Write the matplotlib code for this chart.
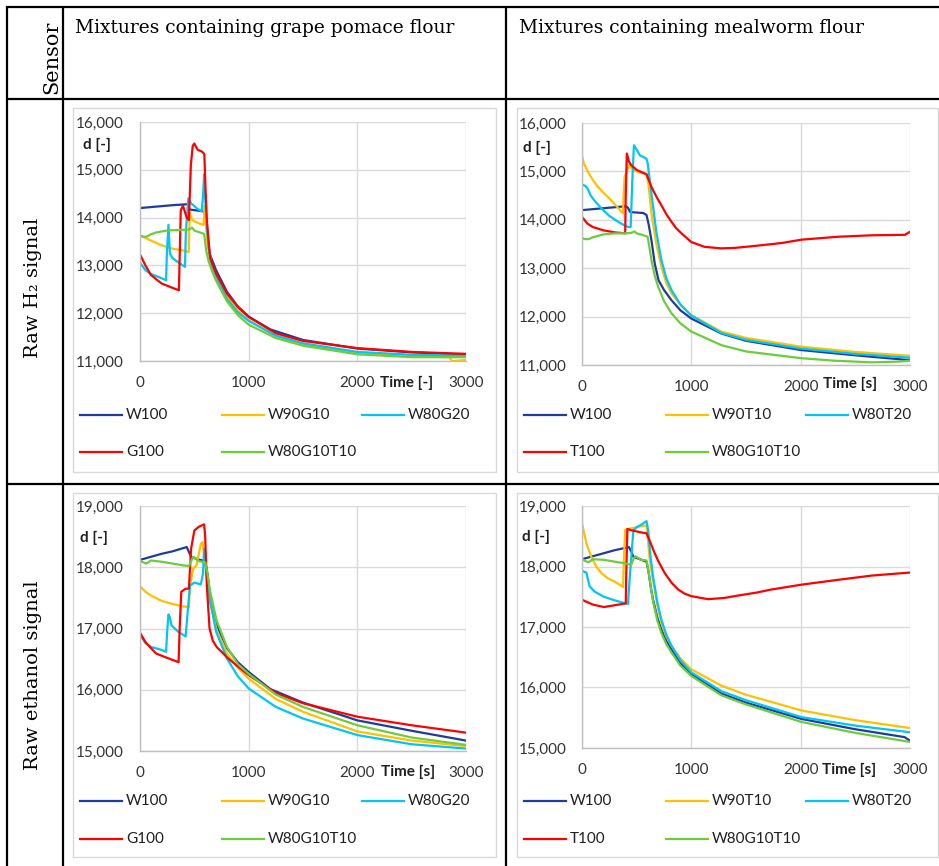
import matplotlib.pyplot as plt
from matplotlib.lines import Line2D
from matplotlib.patches import Rectangle
from matplotlib.ticker import FuncFormatter

plt.rcParams['font.family'] = ['Lato', 'DejaVu Sans']

# ---------------- data ----------------
# Raw H2 signal, grape pomace flour mixtures
h2g_w100_t = [0, 100, 200, 300, 440, 455, 520, 590, 610, 640, 700, 800, 900, 1000, 1200, 1500, 2000, 2500, 3000]
h2g_w100 = [14200, 14220, 14240, 14260, 14280, 14170, 14150, 14130, 13900, 13250, 12900, 12450, 12140, 11930, 11660, 11440, 11260, 11180, 11130]
h2g_w90g10_t = [0, 100, 200, 300, 400, 448, 458, 480, 540, 585, 595, 605, 625, 650, 700, 800, 900, 1000, 1250, 1500, 2000, 2500, 2850, 2870, 3000]
h2g_w90g10 = [13630, 13520, 13420, 13350, 13310, 13280, 14100, 13950, 13880, 13850, 14250, 13900, 13400, 13100, 12800, 12350, 12050, 11850, 11520, 11350, 11170, 11100, 11080, 11000, 11020]
h2g_w80g20_t = [0, 50, 100, 180, 240, 248, 262, 275, 300, 380, 414, 422, 445, 470, 520, 567, 580, 590, 605, 630, 660, 700, 800, 900, 1000, 1250, 1500, 2000, 2500, 3000]
h2g_w80g20 = [13060, 12900, 12820, 12750, 12690, 13300, 13850, 13250, 13150, 13020, 12970, 13700, 14400, 14300, 14200, 14130, 14450, 14900, 14200, 13400, 13000, 12750, 12300, 12020, 11840, 11530, 11370, 11190, 11130, 11110]
h2g_g100_t = [0, 50, 100, 200, 300, 358, 375, 395, 430, 450, 468, 485, 500, 530, 570, 592, 603, 615, 645, 700, 800, 900, 1000, 1250, 1500, 2000, 2500, 3000]
h2g_g100 = [13230, 13000, 12800, 12620, 12530, 12480, 14150, 14250, 14000, 13950, 15100, 15500, 15550, 15420, 15380, 15330, 14600, 13950, 13150, 12830, 12410, 12130, 11920, 11580, 11420, 11270, 11190, 11150]
h2g_mix_t = [0, 30, 60, 100, 150, 250, 350, 450, 480, 500, 550, 590, 610, 630, 660, 700, 800, 900, 1000, 1250, 1500, 2000, 2500, 3000]
h2g_mix = [13620, 13600, 13600, 13650, 13690, 13730, 13740, 13750, 13790, 13730, 13690, 13660, 13300, 13100, 12900, 12680, 12250, 11960, 11760, 11480, 11320, 11140, 11080, 11080]

# Raw H2 signal, mealworm flour mixtures
h2t_w100_t = [0, 100, 200, 300, 400, 420, 440, 500, 560, 590, 610, 635, 665, 700, 750, 818, 900, 1000, 1275, 1500, 2000, 2500, 3000]
h2t_w100 = [14200, 14220, 14240, 14260, 14280, 14250, 14160, 14150, 14140, 14100, 13900, 13580, 13100, 12750, 12550, 12340, 12130, 11960, 11650, 11500, 11310, 11200, 11100]
h2t_w90t10_t = [0, 20, 55, 100, 146, 200, 268, 320, 375, 380, 390, 430, 470, 520, 590, 610, 635, 680, 726, 770, 818, 900, 1000, 1275, 1500, 2000, 2500, 3000]
h2t_w90t10 = [15310, 15150, 14990, 14820, 14680, 14550, 14400, 14270, 14130, 14500, 14890, 15130, 15030, 14980, 14950, 14700, 14130, 13500, 13030, 12700, 12480, 12250, 12030, 11690, 11560, 11380, 11270, 11190]
h2t_w80t20_t = [0, 30, 50, 80, 120, 180, 250, 330, 400, 430, 445, 460, 475, 500, 530, 560, 590, 600, 635, 680, 726, 770, 818, 900, 1000, 1275, 1500, 2000, 2500, 3000]
h2t_w80t20 = [14730, 14700, 14650, 14500, 14380, 14230, 14080, 13960, 13870, 13850, 13850, 14800, 15540, 15450, 15330, 15300, 15260, 15180, 14540, 13750, 13170, 12800, 12550, 12250, 12020, 11660, 11520, 11340, 11230, 11150]
h2t_t100_t = [0, 50, 100, 200, 300, 395, 400, 410, 430, 450, 500, 550, 590, 635, 680, 726, 770, 818, 860, 910, 1000, 1123, 1275, 1400, 1580, 1825, 2008, 2343, 2650, 2954, 2990, 3000]
h2t_t100 = [14060, 13920, 13850, 13780, 13740, 13720, 14500, 15370, 15200, 15130, 15030, 14980, 14940, 14680, 14480, 14300, 14120, 13960, 13830, 13720, 13540, 13440, 13410, 13420, 13460, 13520, 13590, 13650, 13680, 13690, 13740, 13750]
h2t_mix_t = [0, 30, 60, 100, 200, 300, 400, 450, 480, 500, 550, 600, 615, 635, 665, 696, 750, 818, 900, 1000, 1275, 1500, 2008, 2300, 2650, 2900, 3000]
h2t_mix = [13620, 13600, 13600, 13640, 13700, 13720, 13720, 13730, 13760, 13720, 13690, 13650, 13450, 13170, 12850, 12620, 12320, 12070, 11860, 11690, 11410, 11280, 11140, 11090, 11055, 11070, 11090]

# Raw ethanol signal, grape pomace flour mixtures
etg_w100_t = [0, 100, 200, 300, 430, 450, 470, 530, 600, 620, 650, 700, 800, 900, 1000, 1200, 1500, 2000, 2500, 3000]
etg_w100 = [18120, 18170, 18220, 18260, 18330, 18250, 18170, 18130, 18100, 17900, 17450, 17080, 16680, 16450, 16290, 16010, 15790, 15500, 15330, 15170]
etg_w90g10_t = [0, 50, 100, 200, 300, 400, 450, 460, 490, 520, 560, 575, 590, 610, 644, 705, 800, 900, 1000, 1250, 1500, 2000, 2500, 3000]
etg_w90g10 = [17690, 17600, 17540, 17450, 17400, 17360, 17350, 17700, 17980, 18030, 18380, 18410, 18200, 17900, 17460, 16970, 16590, 16360, 16180, 15850, 15640, 15320, 15170, 15080]
etg_w80g20_t = [0, 50, 100, 200, 240, 250, 262, 275, 290, 350, 420, 440, 460, 500, 560, 580, 590, 600, 620, 644, 700, 800, 900, 1000, 1250, 1500, 2000, 2500, 3000]
etg_w80g20 = [16900, 16760, 16700, 16650, 16620, 16950, 17230, 17180, 17050, 16950, 16870, 17300, 17700, 17750, 17720, 17900, 18300, 18100, 17800, 17460, 16950, 16510, 16220, 16020, 15720, 15530, 15260, 15110, 15040]
etg_g100_t = [0, 50, 100, 150, 250, 355, 365, 380, 420, 450, 470, 500, 540, 590, 600, 615, 640, 670, 705, 750, 800, 900, 1000, 1258, 1500, 2000, 2500, 3000]
etg_g100 = [16930, 16780, 16680, 16590, 16520, 16450, 17000, 17600, 17650, 17650, 18300, 18600, 18660, 18700, 18500, 17700, 17000, 16800, 16700, 16620, 16530, 16380, 16240, 15940, 15780, 15560, 15420, 15300]
etg_mix_t = [0, 30, 60, 100, 200, 300, 400, 450, 470, 490, 540, 600, 620, 644, 705, 800, 900, 1000, 1250, 1500, 2000, 2500, 3000]
etg_mix = [18100, 18080, 18060, 18110, 18090, 18060, 18030, 18020, 18100, 18170, 18100, 18080, 17900, 17620, 17130, 16700, 16420, 16260, 15920, 15720, 15420, 15220, 15100]

# Raw ethanol signal, mealworm flour mixtures
ett_w100_t = [0, 100, 200, 300, 430, 450, 470, 530, 590, 610, 630, 650, 690, 726, 770, 818, 900, 1000, 1275, 1500, 2008, 2500, 2950, 3000]
ett_w100 = [18120, 18170, 18220, 18270, 18320, 18250, 18160, 18120, 18080, 17900, 17650, 17450, 17150, 16960, 16780, 16630, 16400, 16220, 15900, 15750, 15480, 15310, 15180, 15120]
ett_w90t10_t = [0, 20, 40, 85, 130, 177, 240, 300, 375, 385, 395, 450, 500, 590, 600, 620, 650, 690, 726, 770, 818, 900, 1000, 1275, 1500, 2008, 2500, 3000]
ett_w90t10 = [18710, 18550, 18380, 18160, 18000, 17890, 17800, 17750, 17660, 18200, 18610, 18630, 18650, 18680, 18500, 18100, 17780, 17350, 17070, 16850, 16690, 16480, 16300, 16030, 15880, 15620, 15460, 15330]
ett_w80t20_t = [0, 40, 55, 70, 120, 200, 300, 420, 440, 470, 500, 550, 590, 605, 625, 650, 690, 726, 770, 818, 900, 1000, 1275, 1500, 2008, 2500, 3000]
ett_w80t20 = [17930, 17900, 17780, 17670, 17580, 17500, 17440, 17380, 17900, 18600, 18650, 18700, 18750, 18600, 18200, 17830, 17400, 17120, 16880, 16690, 16450, 16250, 15940, 15790, 15510, 15370, 15260]
ett_t100_t = [0, 100, 200, 300, 400, 405, 415, 450, 500, 550, 590, 620, 665, 700, 757, 820, 879, 940, 1000, 1153, 1300, 1428, 1600, 1733, 2008, 2343, 2649, 3000]
ett_t100 = [17450, 17370, 17330, 17360, 17390, 17900, 18620, 18600, 18580, 18560, 18550, 18420, 18220, 18080, 17890, 17730, 17620, 17550, 17510, 17460, 17480, 17520, 17570, 17620, 17700, 17780, 17850, 17900]
ett_mix_t = [0, 30, 60, 100, 200, 300, 400, 450, 470, 490, 540, 590, 610, 630, 650, 690, 726, 770, 818, 900, 1000, 1275, 1500, 2008, 2500, 3000]
ett_mix = [18120, 18090, 18070, 18120, 18110, 18080, 18050, 18030, 18120, 18170, 18110, 18100, 17900, 17650, 17420, 17100, 16900, 16720, 16580, 16360, 16190, 15870, 15720, 15430, 15250, 15100]

grape_labels = ['W100', 'W90G10', 'W80G20', 'G100', 'W80G10T10']
worm_labels = ['W100', 'W90T10', 'W80T20', 'T100', 'W80G10T10']
colors = ['#1F3B9B', '#FFC000', '#00C5F5', '#FF0000', '#6DCC3D']

x_ticks = [0, 1000, 2000, 3000]
h2_ticks = [11000, 12000, 13000, 14000, 15000, 16000]
eth_ticks = [15000, 16000, 17000, 18000, 19000]

# ---------------- layout helpers (pixel coords of the reference) ----------------
W, H = 939, 866
fig = plt.figure(figsize=(W / 100, H / 100), dpi=100)


def fx(x):
    return x / W


def fy(y):
    return 1 - y / H


def hline(y, x0, x1, **kw):
    fig.add_artist(Line2D([fx(x0), fx(x1)], [fy(y), fy(y)], **kw))


def vline(x, y0, y1, **kw):
    fig.add_artist(Line2D([fx(x), fx(x)], [fy(y0), fy(y1)], **kw))


# table grid
tbl = dict(color='black', lw=1.6, solid_capstyle='butt')
hline(6.5, 6, 939, **tbl)
hline(99, 6, 939, **tbl)
hline(484, 6, 939, **tbl)
vline(7, 6, 866, **tbl)
vline(63, 6, 866, **tbl)
vline(506, 6, 866, **tbl)

serif = ['DejaVu Serif', 'DejaVu Sans']
fig.text(fx(52), fy(94), 'Sensor', rotation=90, ha='center', va='bottom',
         family=serif, fontsize=15)
fig.text(fx(75), fy(33), 'Mixtures containing grape pomace flour', ha='left',
         va='baseline', family=serif, fontsize=13.4)
fig.text(fx(519), fy(33), 'Mixtures containing mealworm flour', ha='left',
         va='baseline', family=serif, fontsize=13.4)
fig.text(fx(33), fy(288), 'Raw H\u2082 signal', rotation=90, ha='center',
         va='center', family=serif, fontsize=14)
fig.text(fx(33), fy(675), 'Raw ethanol signal', rotation=90, ha='center',
         va='center', family=serif, fontsize=14)

panels = [
    dict(box=(73, 108, 496, 472), rect=(140, 122, 466, 361), ylim=(11000, 16000), yt=h2_ticks,
         series=[(h2g_w100_t, h2g_w100), (h2g_w90g10_t, h2g_w90g10), (h2g_w80g20_t, h2g_w80g20),
                 (h2g_g100_t, h2g_g100), (h2g_mix_t, h2g_mix)],
         labels=grape_labels, xlab='Time [-]', xlab_pos=(407, 383), d_pos=(97, 145),
         leg_x=[80, 222, 362], leg_y=[415, 452], pad=12),
    dict(box=(517, 108, 938, 472), rect=(582, 123, 910, 365), ylim=(11000, 16000), yt=h2_ticks,
         series=[(h2t_w100_t, h2t_w100), (h2t_w90t10_t, h2t_w90t10), (h2t_w80t20_t, h2t_w80t20),
                 (h2t_t100_t, h2t_t100), (h2t_mix_t, h2t_mix)],
         labels=worm_labels, xlab='Time [s]', xlab_pos=(850, 384), d_pos=(537, 148),
         leg_x=[524, 666, 806], leg_y=[415, 452], pad=11),
    dict(box=(73, 493, 496, 857), rect=(140, 506, 466, 751), ylim=(15000, 19000), yt=eth_ticks,
         series=[(etg_w100_t, etg_w100), (etg_w90g10_t, etg_w90g10), (etg_w80g20_t, etg_w80g20),
                 (etg_g100_t, etg_g100), (etg_mix_t, etg_mix)],
         labels=grape_labels, xlab='Time [s]', xlab_pos=(408, 772), d_pos=(94, 538),
         leg_x=[80, 222, 362], leg_y=[801, 839], pad=12),
    dict(box=(517, 493, 938, 857), rect=(582, 506, 910, 748), ylim=(15000, 19000), yt=eth_ticks,
         series=[(ett_w100_t, ett_w100), (ett_w90t10_t, ett_w90t10), (ett_w80t20_t, ett_w80t20),
                 (ett_t100_t, ett_t100), (ett_mix_t, ett_mix)],
         labels=worm_labels, xlab='Time [s]', xlab_pos=(849, 770), d_pos=(536, 537),
         leg_x=[524, 666, 806], leg_y=[801, 839], pad=11),
]

tick_col = '#333333'
for p in panels:
    bx0, by0, bx1, by1 = p['box']
    fig.add_artist(Rectangle((fx(bx0), fy(by1)), fx(bx1) - fx(bx0), fy(by0) - fy(by1),
                             transform=fig.transFigure, fill=False, ec='#D9D9D9', lw=1))
    l, t, r, b = p['rect']
    ax = fig.add_axes([fx(l), fy(b), fx(r) - fx(l), fy(t) - fy(b)])
    for (tt, vv), c in zip(p['series'], colors):
        ax.plot(tt, vv, color=c, lw=1.6, solid_joinstyle='round')
    ax.set_xlim(0, 3000)
    ax.set_ylim(*p['ylim'])
    ax.set_xticks(x_ticks)
    ax.set_yticks(p['yt'])
    ax.yaxis.set_major_formatter(FuncFormatter(lambda v, pos: f'{int(v):,}'))
    ax.grid(True, color='#D9D9D9', lw=1)
    ax.set_axisbelow(True)
    for s in ['top', 'right']:
        ax.spines[s].set_visible(False)
    for s in ['left', 'bottom']:
        ax.spines[s].set_color('#BFBFBF')
        ax.spines[s].set_linewidth(1)
    ax.tick_params(axis='y', length=0, pad=p['pad'], labelsize=11, labelcolor=tick_col)
    ax.tick_params(axis='x', length=0, pad=11, labelsize=11, labelcolor=tick_col)

    fig.text(fx(p['d_pos'][0]), fy(p['d_pos'][1]), 'd [-]', ha='center', va='center',
             fontsize=11, fontweight='bold', color='#202020')
    fig.text(fx(p['xlab_pos'][0]), fy(p['xlab_pos'][1]), p['xlab'], ha='center', va='center',
             fontsize=11, fontweight='bold', color='#202020')

    # legend, laid out in rows of three like the original
    for i, (lab, c) in enumerate(zip(p['labels'], colors)):
        x0 = p['leg_x'][i % 3]
        y0 = p['leg_y'][i // 3]
        hline(y0, x0, x0 + 42, color=c, lw=1.6)
        fig.text(fx(x0 + 46), fy(y0), lab, ha='left', va='center', fontsize=11, color='#202020')

fig.savefig('out.png', dpi=100)
